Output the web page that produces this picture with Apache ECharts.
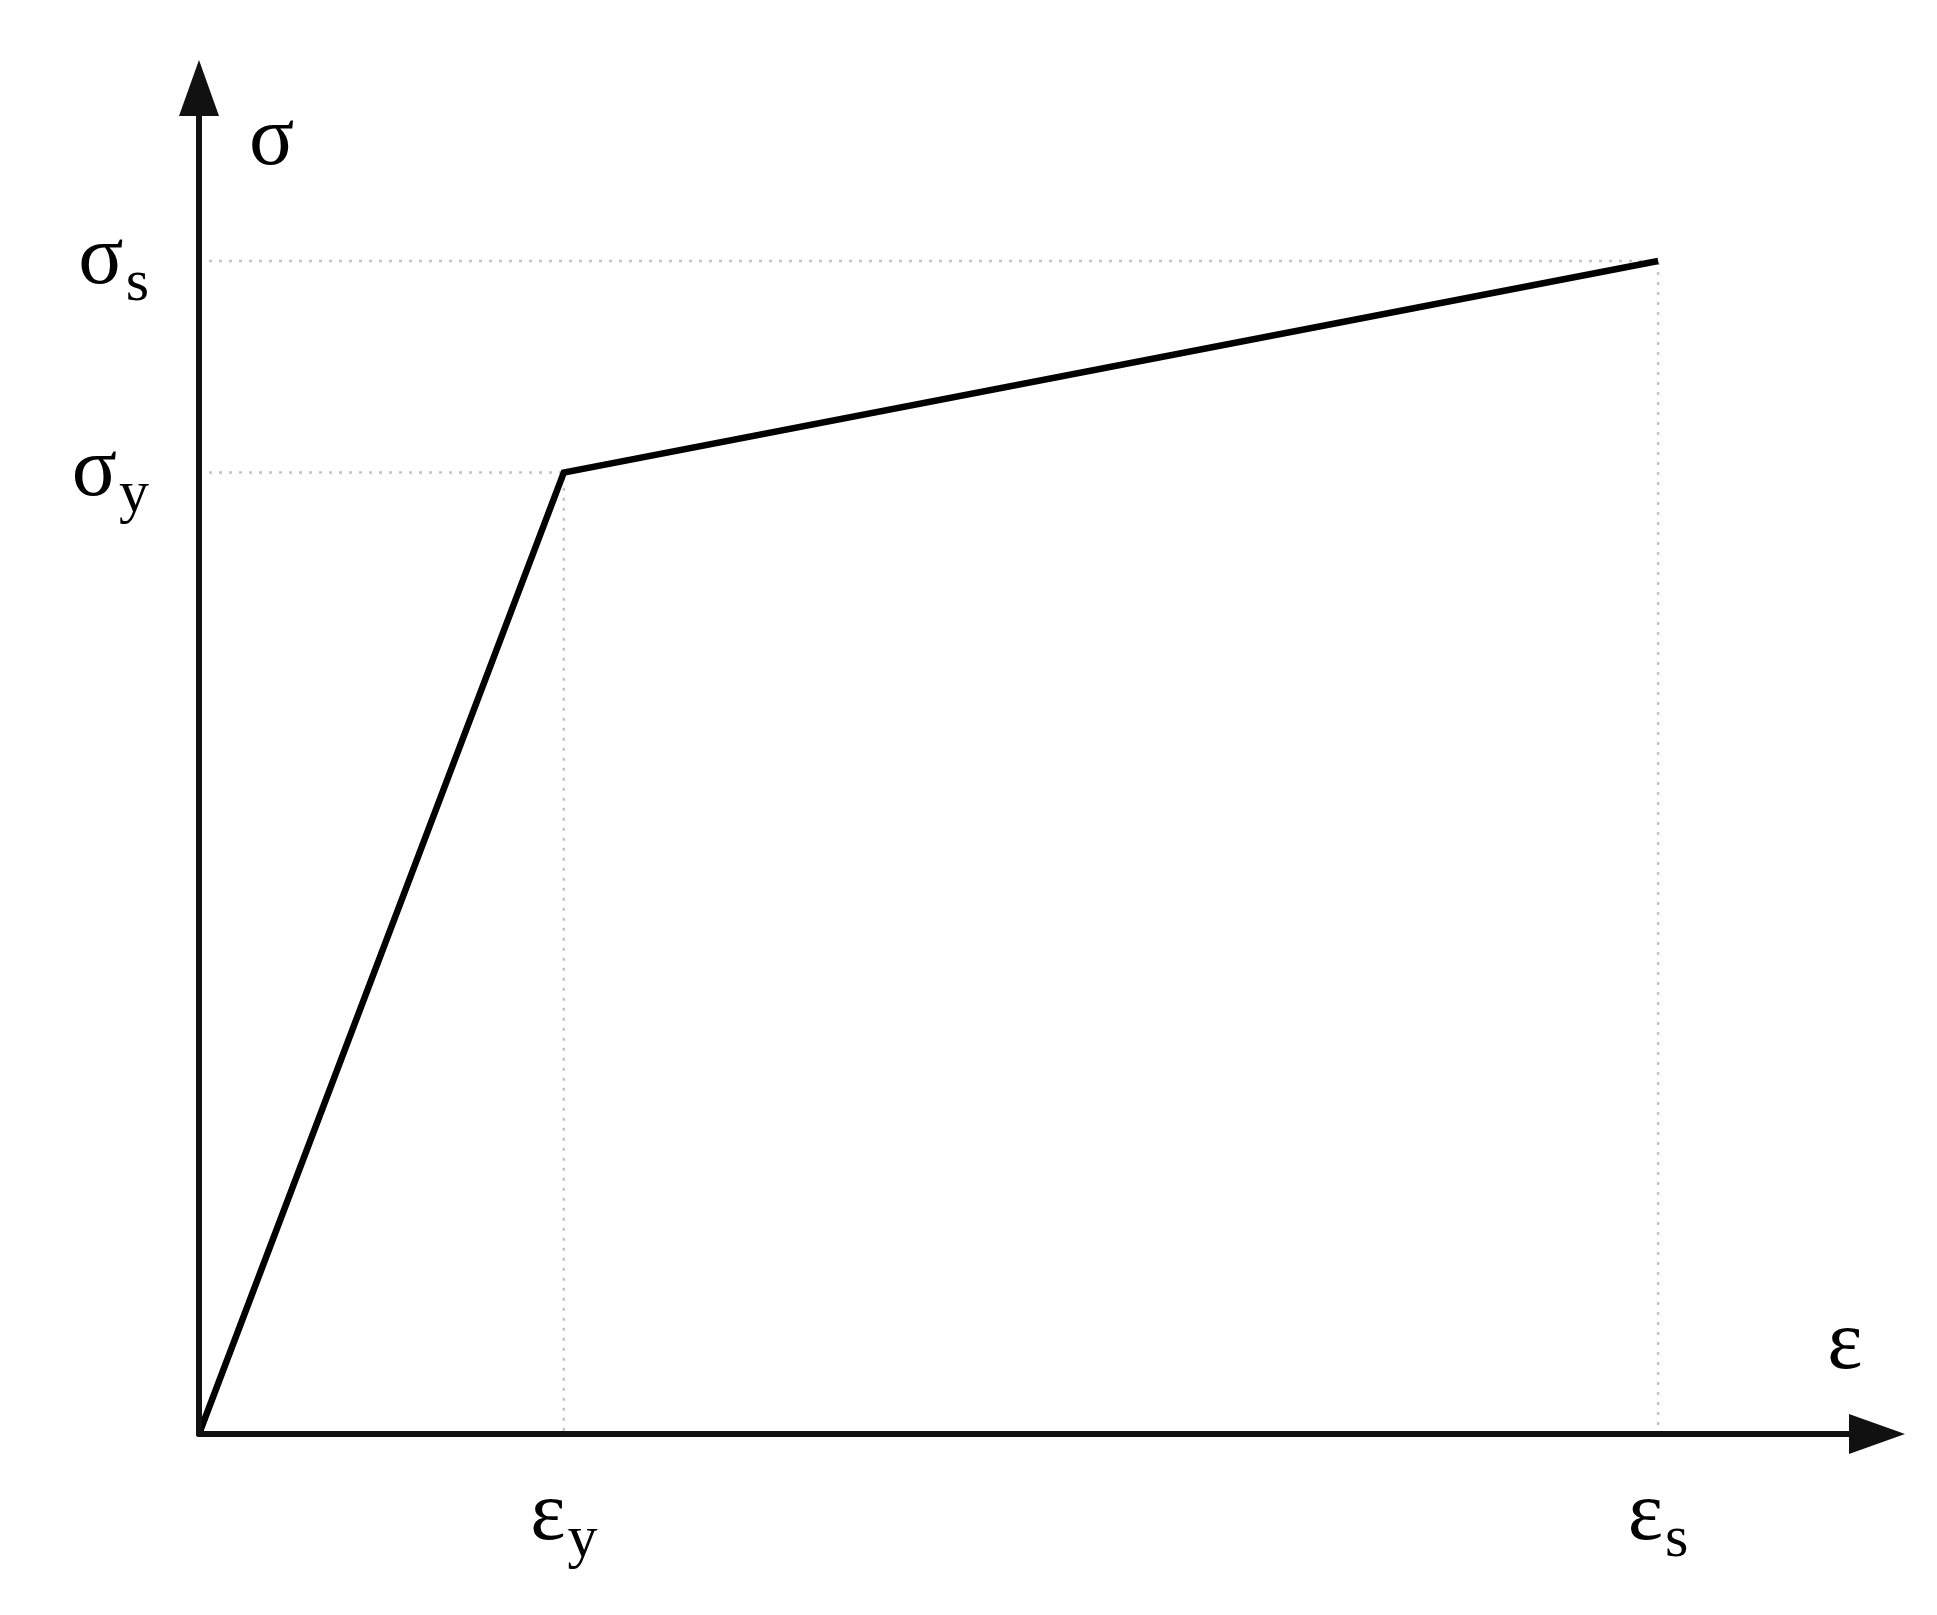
<!DOCTYPE html>
<html>
<head>
<meta charset="utf-8">
<script src="https://cdn.jsdelivr.net/npm/echarts@6/dist/echarts.min.js"></script>
<style>
html,body{margin:0;padding:0;background:#fff;}
#chart{width:1937px;height:1615px;}
</style>
</head>
<body>
<div id="chart"></div>
<script>
// Bilinear stress-strain model (schematic, abstract units)
const strainPoints = [0, 0.002, 0.008];      // 0, εy, εs
const stressPoints = [0, 250, 305];          // 0, σy, σs
const xTickValues = [0.002, 0.008];
const xTickLabels = ['{m|ε}{s|y}', '{m|ε}{s|s}'];
const yTickValues = [250, 305];
const yTickLabels = ['{m|σ}{s|y}', '{m|σ}{s|s}'];
const xAxisName = 'ε';
const yAxisName = 'σ';
const xMax = 0.0092;
const yMax = 350;

const FONT = '"Liberation Serif", "DejaVu Serif", serif';
const rich = {
  m: {fontFamily: FONT, fontSize: 84, lineHeight: 90, color: '#000'},
  s: {fontFamily: FONT, fontSize: 60, lineHeight: 46, padding: [46, 0, 0, 2], color: '#000'}
};

const curve = strainPoints.map((x, i) => [x, stressPoints[i]]);
const guides = [];
for (let i = 1; i < strainPoints.length; i++) {
  guides.push({
    type: 'line', silent: true, symbol: 'none', z: 1, animation: false,
    lineStyle: {color: '#c4c4c4', width: 2.5, type: [3, 7]},
    data: [[0, stressPoints[i]], [strainPoints[i], stressPoints[i]], [strainPoints[i], 0]]
  });
}

const chart = echarts.init(document.getElementById('chart'), null, {renderer: 'canvas'});
chart.setOption({
  backgroundColor: '#fff',
  animation: false,
  grid: {left: 199, right: 60, top: 88, bottom: 181, containLabel: false},
  xAxis: {
    type: 'value', min: 0, max: xMax, z: 5,
    name: xAxisName, nameLocation: 'end', nameGap: -32, nameMoveOverlap: false,
    nameTextStyle: {fontFamily: FONT, fontSize: 84, color: '#000', align: 'center', verticalAlign: 'bottom', padding: [0, 0, 46, 0]},
    axisLine: {show: true, onZero: false, symbol: ['none', 'triangle'], symbolSize: [40, 56],
      lineStyle: {color: '#111', width: 6}},
    axisTick: {show: false},
    splitLine: {show: false},
    axisLabel: {
      show: true, customValues: xTickValues, margin: 38,
      formatter: v => xTickLabels[xTickValues.indexOf(v)] || '',
      rich: rich
    }
  },
  yAxis: {
    type: 'value', min: 0, max: yMax, z: 5,
    name: yAxisName, nameLocation: 'end', nameGap: -54, nameMoveOverlap: false,
    nameTextStyle: {fontFamily: FONT, fontSize: 84, color: '#000', align: 'left', verticalAlign: 'middle', padding: [0, 0, 0, 50]},
    axisLine: {show: true, onZero: false, symbol: ['none', 'triangle'], symbolSize: [40, 56],
      lineStyle: {color: '#111', width: 6}},
    axisTick: {show: false},
    splitLine: {show: false},
    axisLabel: {
      show: true, customValues: yTickValues, margin: 50,
      formatter: v => yTickLabels[yTickValues.indexOf(v)] || '',
      rich: rich
    }
  },
  series: guides.concat([{
    type: 'line', silent: true, symbol: 'none', z: 3,
    lineStyle: {color: '#000', width: 6.5, join: 'miter'},
    data: curve
  }])
});
</script>
</body>
</html>
